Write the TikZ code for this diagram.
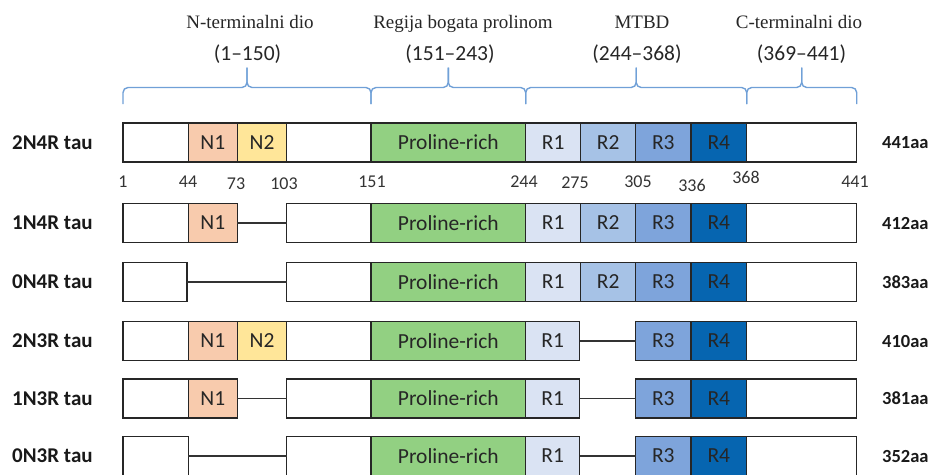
\documentclass[tikz,border=0pt]{standalone}
\usepackage{fontspec}
\setmainfont{Liberation Serif}
\newfontfamily\calibri{Carlito}
\usetikzlibrary{positioning}

\definecolor{nonecol}{RGB}{248,203,173}
\definecolor{ntwocol}{RGB}{255,230,153}
\definecolor{procol}{RGB}{146,208,130}
\definecolor{ronecol}{RGB}{218,227,243}
\definecolor{rtwocol}{RGB}{166,194,230}
\definecolor{rthreecol}{RGB}{126,164,219}
\definecolor{rfourcol}{RGB}{6,101,176}
\definecolor{bracecol}{RGB}{112,160,215}

\begin{document}
\begin{tikzpicture}[x=1pt, y=-1pt,
    seg/.style={draw=black!85, line width=1.2pt, minimum height=39pt, inner sep=0pt, outer sep=0pt,
      text=black!85, font=\calibri\fontsize{21.5}{25}\selectfont},
    veza/.style={draw=black!80, line width=1.1pt},
    zagrada/.style={draw=bracecol, line width=1.4pt, rounded corners=5pt},
    oznaka/.style={anchor=west, inner sep=0pt, font=\calibri\bfseries\fontsize{21}{25}\selectfont, text=black!90},
    duljina/.style={anchor=west, inner sep=0pt, font=\calibri\bfseries\fontsize{18.5}{22}\selectfont, text=black!90},
    broj/.style={anchor=base, inner sep=0pt, font=\calibri\fontsize{18}{21}\selectfont, text=black!80},
    naslov/.style={anchor=base, inner sep=0pt, font=\fontsize{19}{22}\selectfont, text=black!85},
    raspon/.style={anchor=base, inner sep=0pt, font=\calibri\fontsize{21.5}{25}\selectfont, text=black!85}]

  \useasboundingbox (0,0) rectangle (931,474);
  \clip (0,0) rectangle (931,474);

  % Domain titles
  \node[naslov] (tn) at (250,28) {N-terminalni dio};
  \node[raspon] (rn) at (247.5,60) {(1–150)};
  \node[naslov] (tp) at (463,28) {Regija bogata prolinom};
  \node[raspon] (rp) at (450,60) {(151–243)};
  \node[naslov] (tm) at (642,28) {MTBD};
  \node[raspon] (rm) at (637,60) {(244–368)};
  \node[naslov] (tc) at (799,28) {C-terminalni dio};
  \node[raspon] (rc) at (801.5,60) {(369–441)};

  % Draw the braces
  \draw[zagrada] (123,104) |- (247,87.5) -- (247,67.5);
  \draw[zagrada] (371,104) |- (247,87.5) -- (247,67.5);
  \draw[zagrada] (371,104) |- (448.3,87.5) -- (448.3,67.5);
  \draw[zagrada] (525.7,104) |- (448.3,87.5) -- (448.3,67.5);
  \draw[zagrada] (525.7,104) |- (636.2,87.5) -- (636.2,67.5);
  \draw[zagrada] (746.7,104) |- (636.2,87.5) -- (636.2,67.5);
  \draw[zagrada] (746.7,104) |- (801.7,87.5) -- (801.7,67.5);
  \draw[zagrada] (856.7,104) |- (801.7,87.5) -- (801.7,67.5);

  % 2N4R
  \node[oznaka] (aL) at (12,142.5) {2N4R tau};
  \node[seg, minimum width=65.3pt] (aS) at (155.65,142.5) {};
  \node[seg, fill=nonecol, minimum width=49pt] (aN1) at (212.8,142.5) {N1};
  \node[seg, fill=ntwocol, minimum width=49.4pt] (aN2) at (262,142.5) {N2};
  \node[seg, minimum width=84.3pt] (aB) at (328.85,142.5) {};
  \node[seg, fill=procol, minimum width=154.7pt] (aP) at (448.35,142.5) {Proline-rich};
  \node[seg, fill=ronecol, minimum width=55pt] (aR1) at (553.2,142.5) {R1};
  \node[seg, fill=rtwocol, minimum width=55pt] (aR2) at (608.2,142.5) {R2};
  \node[seg, fill=rthreecol, minimum width=55.3pt] (aR3) at (663.35,142.5) {R3};
  \node[seg, fill=rfourcol, minimum width=55.7pt] (aR4) at (718.85,142.5) {R4};
  \node[seg, minimum width=110pt] (aC) at (801.7,142.5) {};
  \node[duljina] (aAA) at (882,142.5) {441aa};

  % Residue numbers
  \node[broj] (b1) at (123,187) {1};
  \node[broj] (b44) at (188,187) {44};
  \node[broj] (b73) at (236,189) {73};
  \node[broj] (b103) at (284,189) {103};
  \node[broj] (b151) at (372,187) {151};
  \node[broj] (b244) at (524,187) {244};
  \node[broj] (b275) at (575,188) {275};
  \node[broj] (b305) at (638,187) {305};
  \node[broj] (b336) at (692,191) {336};
  \node[broj] (b368) at (746,183) {368};
  \node[broj] (b441) at (855,187) {441};

  % 1N4R
  \node[oznaka] (bL) at (12,223) {1N4R tau};
  \node[seg, minimum width=65.3pt] (bS) at (155.65,223) {};
  \node[seg, fill=nonecol, minimum width=49pt] (bN1) at (212.8,223) {N1};
  \node[seg, minimum width=84.3pt] (bB) at (328.85,223) {};
  \node[seg, fill=procol, minimum width=154.7pt] (bP) at (448.35,223) {Proline-rich};
  \node[seg, fill=ronecol, minimum width=55pt] (bR1) at (553.2,223) {R1};
  \node[seg, fill=rtwocol, minimum width=55pt] (bR2) at (608.2,223) {R2};
  \node[seg, fill=rthreecol, minimum width=55.3pt] (bR3) at (663.35,223) {R3};
  \node[seg, fill=rfourcol, minimum width=55.7pt] (bR4) at (718.85,223) {R4};
  \node[seg, minimum width=110pt] (bC) at (801.7,223) {};
  \node[duljina] (bAA) at (882,223) {412aa};
  \draw[veza] (bN1.east) -- (bB.west);

  % 0N4R
  \node[oznaka] (cL) at (12,282) {0N4R tau};
  \node[seg, minimum width=64pt] (cS) at (155,282) {};
  \node[seg, minimum width=84.3pt] (cB) at (328.85,282) {};
  \node[seg, fill=procol, minimum width=154.7pt] (cP) at (448.35,282) {Proline-rich};
  \node[seg, fill=ronecol, minimum width=55pt] (cR1) at (553.2,282) {R1};
  \node[seg, fill=rtwocol, minimum width=55pt] (cR2) at (608.2,282) {R2};
  \node[seg, fill=rthreecol, minimum width=55.3pt] (cR3) at (663.35,282) {R3};
  \node[seg, fill=rfourcol, minimum width=55.7pt] (cR4) at (718.85,282) {R4};
  \node[seg, minimum width=110pt] (cC) at (801.7,282) {};
  \node[duljina] (cAA) at (882,282) {383aa};
  \draw[veza] (cS.east) -- (cB.west);

  % 2N3R
  \node[oznaka] (dL) at (12,341) {2N3R tau};
  \node[seg, minimum width=65.3pt] (dS) at (155.65,341) {};
  \node[seg, fill=nonecol, minimum width=49pt] (dN1) at (212.8,341) {N1};
  \node[seg, fill=ntwocol, minimum width=49.4pt] (dN2) at (262,341) {N2};
  \node[seg, minimum width=84.3pt] (dB) at (328.85,341) {};
  \node[seg, fill=procol, minimum width=154.7pt] (dP) at (448.35,341) {Proline-rich};
  \node[seg, fill=ronecol, minimum width=54pt] (dR1) at (552.7,341) {R1};
  \node[seg, fill=rthreecol, minimum width=55.3pt] (dR3) at (663.35,341) {R3};
  \node[seg, fill=rfourcol, minimum width=55.7pt] (dR4) at (718.85,341) {R4};
  \node[seg, minimum width=110pt] (dC) at (801.7,341) {};
  \node[duljina] (dAA) at (882,341) {410aa};
  \draw[veza] (dR1.east) -- (dR3.west);

  % 1N3R
  \node[oznaka] (eL) at (12,398.5) {1N3R tau};
  \node[seg, minimum width=65.3pt] (eS) at (155.65,398.5) {};
  \node[seg, fill=nonecol, minimum width=49pt] (eN1) at (212.8,398.5) {N1};
  \node[seg, minimum width=84.3pt] (eB) at (328.85,398.5) {};
  \node[seg, fill=procol, minimum width=154.7pt] (eP) at (448.35,398.5) {Proline-rich};
  \node[seg, fill=ronecol, minimum width=54pt] (eR1) at (552.7,398.5) {R1};
  \node[seg, fill=rthreecol, minimum width=55.3pt] (eR3) at (663.35,398.5) {R3};
  \node[seg, fill=rfourcol, minimum width=55.7pt] (eR4) at (718.85,398.5) {R4};
  \node[seg, minimum width=110pt] (eC) at (801.7,398.5) {};
  \node[duljina] (eAA) at (882,398.5) {381aa};
  \draw[veza] (eN1.east) -- (eB.west);
  \draw[veza] (eR1.east) -- (eR3.west);

  % 0N3R
  \node[oznaka] (fL) at (12,456) {0N3R tau};
  \node[seg, minimum width=65.3pt] (fS) at (155.65,456) {};
  \node[seg, minimum width=84.3pt] (fB) at (328.85,456) {};
  \node[seg, fill=procol, minimum width=154.7pt] (fP) at (448.35,456) {Proline-rich};
  \node[seg, fill=ronecol, minimum width=54pt] (fR1) at (552.7,456) {R1};
  \node[seg, fill=rthreecol, minimum width=55.3pt] (fR3) at (663.35,456) {R3};
  \node[seg, fill=rfourcol, minimum width=55.7pt] (fR4) at (718.85,456) {R4};
  \node[seg, minimum width=110pt] (fC) at (801.7,456) {};
  \node[duljina] (fAA) at (882,456) {352aa};
  \draw[veza] (fS.east) -- (fB.west);
  \draw[veza] (fR1.east) -- (fR3.west);
\end{tikzpicture}
\end{document}
